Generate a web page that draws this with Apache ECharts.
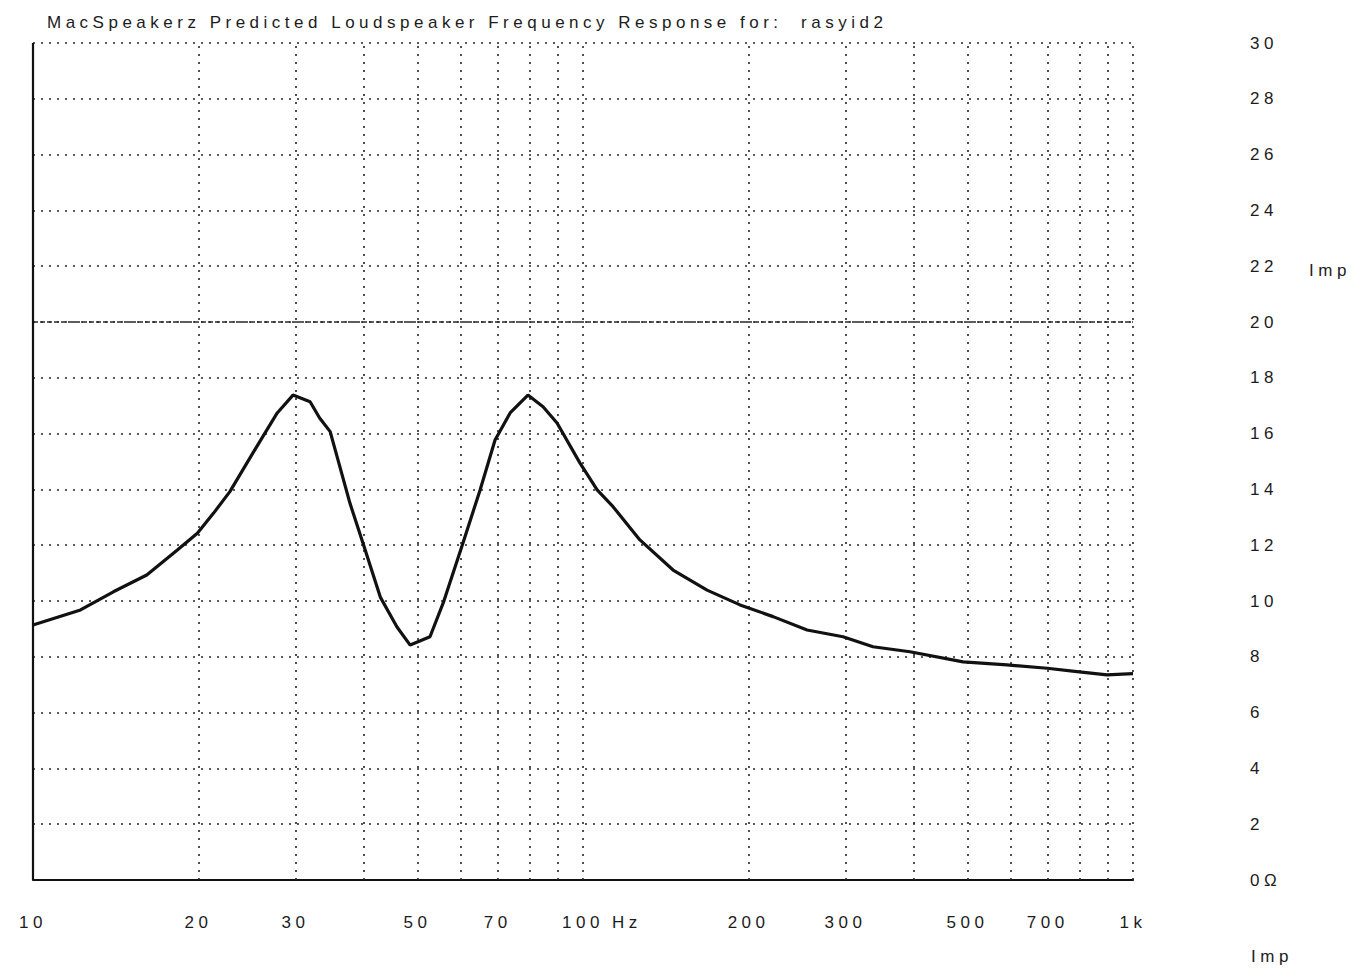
<!DOCTYPE html>
<html>
<head>
<meta charset="utf-8">
<script src="https://cdn.jsdelivr.net/npm/echarts@6/dist/echarts.min.js"></script>
<style>
  html, body { margin: 0; padding: 0; background: #ffffff; }
  #chart { width: 1361px; height: 977px; }
  /* wide tracking of the plotter-style lettering */
  #chart svg text { letter-spacing: 4.5px; }
</style>
</head>
<body>
<div id="chart"></div>
<script>
// Predicted loudspeaker impedance (ohms) against frequency (Hz)
const freqHz = [10, 12.2, 14.0, 16.1, 18.3, 19.9, 21.3, 22.8, 25.1, 27.8, 29.7, 31.9, 33.2, 34.7,
  37.7, 39.8, 42.8, 45.9, 48.5, 52.7, 55.7, 60.5, 65.0, 69.2, 73.7, 79.4, 84.6, 89.7, 98.7,
  106.1, 113.4, 126.9, 145.8, 168.1, 193.0, 221.6, 255.5, 297, 336.7, 393, 491, 590, 698, 791, 897, 1000];
const impedanceOhm = [9.14, 9.68, 10.33, 10.93, 11.83, 12.43, 13.15, 13.92, 15.3, 16.74, 17.38, 17.14, 16.56, 16.07,
  13.5, 12.08, 10.14, 9.07, 8.42, 8.72, 9.93, 12.08, 13.98, 15.77, 16.74, 17.38, 16.96, 16.38, 14.95,
  13.98, 13.38, 12.19, 11.11, 10.39, 9.86, 9.44, 8.96, 8.72, 8.36, 8.18, 7.82, 7.71, 7.59, 7.47, 7.35, 7.40];

// Frequency axis: labelled ticks and dotted grid lines
const xLabelFreqs = [10, 20, 30, 50, 70, 100, 200, 300, 500, 700, 1000];
const xLabelTexts = ['10', '20', '30', '50', '70', '100', '200', '300', '500', '700', '1k'];
const xGridFreqs = [20, 30, 40, 50, 60, 70, 80, 90, 100, 200, 300, 400, 500, 600, 700, 800, 900, 1000];

// Impedance axis
const yMin = 0, yMax = 30, yStep = 2;
const yReferenceLine = 20;

const titleText = 'MacSpeakerz Predicted Loudspeaker Frequency Response for:  rasyid2';

const FONT = 'Liberation Sans';
const INK = '#1c1c1c';
const dotted = { type: [2, 6], color: '#262626', width: 1.6 };

const dom = document.getElementById('chart');
const chart = echarts.init(dom, null, { renderer: 'svg' });

const gridLines = xGridFreqs.map(f => ({ xAxis: f, lineStyle: dotted }));
gridLines.push({ yAxis: yReferenceLine, lineStyle: { type: [5, 2], color: '#2a2a2a', width: 1.6 } });
gridLines.push({ xAxis: 10, lineStyle: { type: 'solid', color: '#111', width: 2.2 } });

const option = {
  animation: false,
  backgroundColor: '#ffffff',
  title: {
    text: titleText,
    left: 42,
    top: 9,
    textStyle: { fontFamily: FONT, fontSize: 17, fontWeight: 'normal', color: INK }
  },
  grid: { left: 33, right: 228, top: 43, bottom: 97 },
  xAxis: {
    type: 'log',
    logBase: 10,
    min: 10,
    max: 1000,
    axisLine: { show: true, onZero: false, lineStyle: { color: '#111', width: 2.2 } },
    axisTick: { show: false },
    splitLine: { show: false },
    minorSplitLine: { show: false },
    axisLabel: {
      customValues: xLabelFreqs,
      formatter: v => {
        const i = xLabelFreqs.findIndex(f => Math.abs(f - v) < 1e-6 * f);
        return i >= 0 ? xLabelTexts[i] : '';
      },
      margin: 34,
      fontFamily: FONT,
      fontSize: 17,
      color: INK
    }
  },
  yAxis: {
    type: 'value',
    position: 'right',
    min: yMin,
    max: yMax,
    interval: yStep,
    axisLine: { show: false },
    axisTick: { show: false },
    splitLine: { show: true, lineStyle: dotted },
    axisLabel: {
      margin: 117,
      formatter: v => (v === 0 ? '0Ω' : String(v)),
      fontFamily: FONT,
      fontSize: 17,
      color: INK,
      padding: [5, 0, 0, 0]
    }
  },
  graphic: [
    { type: 'text', left: 1309, top: 262, style: { text: 'Imp', font: '17px "Liberation Sans"', fill: INK } },
    { type: 'text', left: 1251, top: 948, style: { text: 'Imp', font: '17px "Liberation Sans"', fill: INK } },
    { type: 'text', left: 612, top: 914, style: { text: 'Hz', font: '17px "Liberation Sans"', fill: INK } }
  ],
  series: [{
    name: 'Imp',
    type: 'line',
    data: freqHz.map((f, i) => [f, impedanceOhm[i]]),
    symbol: 'none',
    smooth: false,
    lineStyle: { color: '#111', width: 3.2 },
    z: 5,
    markLine: {
      silent: true,
      symbol: 'none',
      label: { show: false },
      emphasis: { disabled: true },
      data: gridLines
    }
  }]
};

chart.setOption(option);
</script>
</body>
</html>
